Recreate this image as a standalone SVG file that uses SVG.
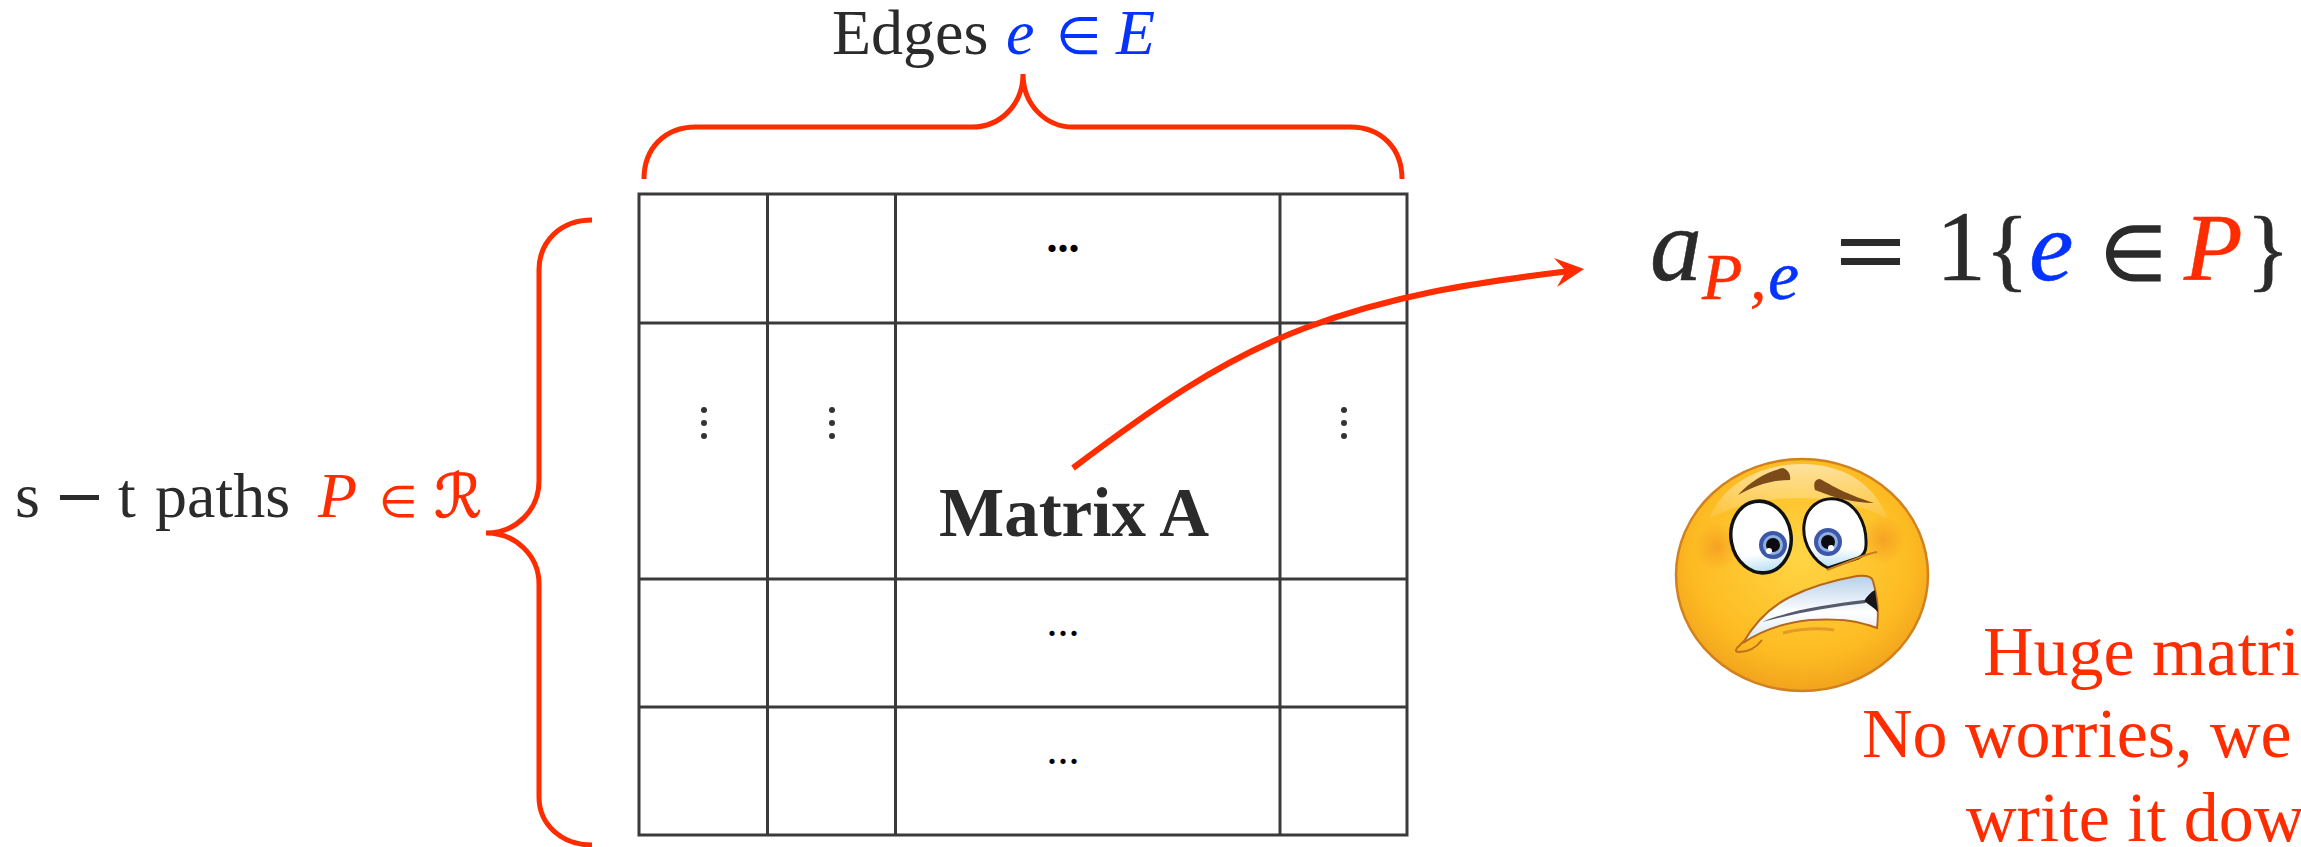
<svg xmlns="http://www.w3.org/2000/svg" width="2301" height="847" viewBox="0 0 2301 847">
<style>
.t{font-family:"Liberation Serif",serif;fill:#2b2b2b}
.i{font-style:italic}
.m{font-family:"DejaVu Sans",sans-serif}
.r{fill:#ff2c00}
.b{fill:#0433ff}
.g{fill:none;stroke:#3a3a3a;stroke-width:3}
.br{fill:none;stroke:#ff2c00;stroke-width:5}
.s64{font-size:64px}
.dot{fill:#333}
.heavy{stroke-width:.5px}
.heavy .r{stroke:#ff2c00}.heavy .b{stroke:#0433ff}.heavy .k{stroke:#2b2b2b}
</style>
<defs>
<radialGradient id="face" cx="50%" cy="42%" r="60%"><stop offset="0" stop-color="#ffd544"/><stop offset="0.72" stop-color="#fdbb22"/><stop offset="1" stop-color="#f0a01c"/></radialGradient>
<linearGradient id="shine" x1="0" y1="0" x2="0" y2="1"><stop offset="0" stop-color="#fff" stop-opacity="0.55"/><stop offset="1" stop-color="#fff" stop-opacity="0.08"/></linearGradient>
<linearGradient id="eye" x1="0" y1="0" x2="0" y2="1"><stop offset="0" stop-color="#fff"/><stop offset="0.72" stop-color="#fff"/><stop offset="1" stop-color="#b5def5"/></linearGradient>
<linearGradient id="tooth" x1="0" y1="0" x2="0" y2="1"><stop offset="0" stop-color="#b5cfe8"/><stop offset="0.55" stop-color="#fff"/><stop offset="1" stop-color="#d5e4f2"/></linearGradient>
<radialGradient id="blush"><stop offset="0" stop-color="#f08a1c" stop-opacity=".55"/><stop offset="1" stop-color="#f08a1c" stop-opacity="0"/></radialGradient>
</defs>
<g id="matrix">
<rect class="g" x="639" y="194" width="768" height="641"/>
<path class="g" d="M767.5 194V835M895.5 194V835M1280 194V835M639 323H1407M639 579H1407M639 707H1407"/>
</g>
<g id="cell-dots">
<g class="dot"><circle cx="704" cy="410" r="3"/><circle cx="704" cy="423" r="3"/><circle cx="704" cy="436" r="3"/>
<circle cx="832" cy="410" r="3"/><circle cx="832" cy="423" r="3"/><circle cx="832" cy="436" r="3"/>
<circle cx="1344" cy="410" r="3"/><circle cx="1344" cy="423" r="3"/><circle cx="1344" cy="436" r="3"/></g>
<text class="t" x="1063" y="252" font-size="44" font-weight="bold" text-anchor="middle" style="fill:#000">...</text>
<text class="t" x="1063" y="636" font-size="44" text-anchor="middle" style="fill:#000">...</text>
<text class="t" x="1063" y="764" font-size="44" text-anchor="middle" style="fill:#000">...</text>
</g>
<g id="matrix-label"><text class="t" x="939" y="536" font-size="69" font-weight="bold">Matrix A</text></g>
<g id="braces">
<path class="br" d="M644 179C644 148 665 127 696 127H972C1000 127 1023 105 1023 74C1023 105 1046 127 1073 127H1350C1381 127 1402 148 1402 179"/>
<path class="br" d="M592 220C561 220 539 241 539 270V481C539 510 516 533 486 533C516 533 539 556 539 584V797C539 824 561 845 592 845"/>
</g>
<g id="connectors">
<path class="br" style="stroke-width:6" d="M1073 468C1150 410 1220 360 1305 328C1390 296 1470 283 1570 271"/>
<path class="r" d="M1584 269L1554 258L1566 271L1557 287Z"/>
</g>
<g id="label-edges">
<text class="t s64" x="832" y="54">Edges</text>
<text class="t i b s64" x="1006" y="54">e</text>
<text class="m b" x="1056" y="54" font-size="52">∈</text>
<text class="t i b s64" x="1116" y="54">E</text>
</g>
<g id="label-paths">
<text class="t s64" x="15" y="517">s</text>
<rect x="60" y="495" width="39" height="5" fill="#2b2b2b"/>
<text class="t s64" x="118" y="517">t</text>
<text class="t s64" x="155" y="517">paths</text>
<text class="t i r s64" x="318" y="517">P</text>
<text class="m r" x="379" y="517" font-size="44">∈</text>
<text class="m i r" x="434" y="517" font-size="60" stroke="#ff2c00" stroke-width="1">ℛ</text>
</g>
<g id="formula" class="heavy">
<text class="t i k" x="1650" y="280" font-size="104">a</text>
<text class="t i r" x="1702" y="299" font-size="66">P</text>
<text class="t i r" x="1750" y="299" font-size="66">,</text>
<text class="t i b" x="1768" y="299" font-size="70">e</text>
<rect x="1841" y="239" width="59" height="7" fill="#2b2b2b"/><rect x="1841" y="258" width="59" height="7" fill="#2b2b2b"/>
<text class="t k" x="1936" y="280" font-size="100">1</text>
<text class="t k" x="1985" y="280" font-size="92">{</text>
<text class="t i b" x="2029" y="280" font-size="100">e</text>
<text class="m k" x="2100" y="280" font-size="76" style="stroke-width:1.5px;fill:#2b2b2b">∈</text>
<text class="t i r" x="2184" y="280" font-size="96">P</text>
<text class="t k" x="2246" y="280" font-size="92">}</text>
</g>
<g id="emoji">
<ellipse cx="1802" cy="575" rx="126" ry="116" fill="url(#face)" stroke="#d2811f" stroke-width="2.5"/>
<path d="M1709 519C1725 480 1765 464 1802 464C1845 464 1875 485 1888 519C1860 505 1835 498 1800 498C1765 498 1735 505 1709 519Z" fill="url(#shine)"/>
<ellipse cx="1717" cy="547" rx="22" ry="24" fill="url(#blush)"/>
<ellipse cx="1883" cy="540" rx="22" ry="24" fill="url(#blush)"/>
<path d="M1738 495C1750 482 1765 472 1783 468C1789 470 1791 476 1790 480C1770 480 1755 486 1738 495Z" fill="#7d4a1a"/>
<path d="M1815 490C1813 483 1815 479 1820 479C1830 484 1840 492 1874 503C1855 503 1835 498 1815 490Z" fill="#7d4a1a"/>
<ellipse cx="1761" cy="537" rx="30" ry="36" transform="rotate(-10 1761 537)" fill="url(#eye)" stroke="#111" stroke-width="3.5"/>
<path d="M1804 525C1806 507 1820 497 1836 499C1855 502 1867 522 1866 545C1866 552 1863 556 1858 558L1828 568C1815 562 1802 545 1804 525Z" fill="url(#eye)" stroke="#111" stroke-width="3"/>
<path d="M1827 570L1858 558C1865 555 1871 553 1877 552" fill="none" stroke="#c9781c" stroke-width="2"/>
<circle cx="1773" cy="545" r="14" fill="#3d58a8"/><circle cx="1773" cy="545" r="10" fill="#8fb0e0"/><circle cx="1773" cy="545" r="7" fill="#0c0c10"/><circle cx="1769" cy="551" r="3" fill="#fff"/>
<circle cx="1828" cy="542" r="14" fill="#3d58a8"/><circle cx="1828" cy="542" r="10" fill="#8fb0e0"/><circle cx="1828" cy="542" r="7" fill="#0c0c10"/><circle cx="1831" cy="548" r="3" fill="#fff"/>
<path d="M1743 643C1755 622 1770 607 1790 597C1810 587 1835 580 1857 576C1868 575 1872 577 1873 581C1877 595 1879 612 1877 628C1860 622 1845 618 1810 620C1790 622 1765 628 1743 643Z" fill="url(#tooth)" stroke="#b5671c" stroke-width="2"/>
<path d="M1762 622C1790 610 1830 604 1864 600L1866 603C1830 607 1795 613 1762 622Z" fill="#555a6c"/>
<path d="M1864 601C1867 596 1871 592 1875 590L1878 612C1873 607 1868 604 1864 601Z" fill="#15151a"/>
<path d="M1746 639L1737 648C1735 651 1736 652 1739 652C1748 652 1756 648 1762 640" fill="none" stroke="#bf6f1d" stroke-width="2"/>
<path d="M1783 633C1800 629 1820 628 1834 630" fill="none" stroke="#e39a26" stroke-width="3"/>
</g>
<g id="note">
<text class="t r" x="1983" y="675" font-size="70">Huge matri</text>
<text class="t r" x="1862" y="757" font-size="70">No worries, we</text>
<text class="t r" x="1966" y="841" font-size="70">write it dow</text>
</g>
</svg>
